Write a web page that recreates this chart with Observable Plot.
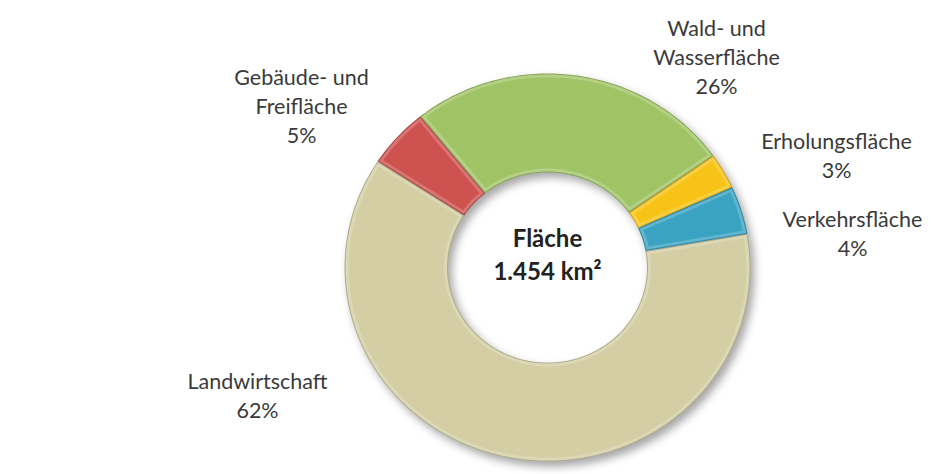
<!DOCTYPE html>
<html><head><meta charset="utf-8">
<script src="https://cdn.jsdelivr.net/npm/d3@7"></script>
<script src="https://cdn.jsdelivr.net/npm/@observablehq/plot@0.6"></script>
<style>html,body{margin:0;padding:0;background:#fff;}</style>
</head><body><div id="chart"></div>
<script>
// ---- data ----
const categories = ["Landwirtschaft", "Gebäude- und Freifläche", "Wald- und Wasserfläche", "Erholungsfläche", "Verkehrsfläche"];
const labelLines = [["Landwirtschaft"], ["Gebäude- und", "Freifläche"], ["Wald- und", "Wasserfläche"], ["Erholungsfläche"], ["Verkehrsfläche"]];
const percents = [62, 5, 26, 3, 4];
const colors = ["#d3cea4", "#cd5250", "#a0c465", "#f7c316", "#3aa3c2"];
const centerLines = ["Fläche", "1.454 km²"];

// ---- layout ----
const W = 931, H = 474;
const CX = 547, CY = 267, RX = 203, RY = 194, INNER = 0.49;
const START_DEG = 80;
const labelPos = [[257, 417], [301, 142], [716, 93], [836, 177], [852, 255]]; // x, baseline of last line
const centerBaseline = 279;

const R = (RX + RY) / 2;
const arcs = d3.pie().sort(null)
  .startAngle(START_DEG * Math.PI / 180)
  .endAngle(START_DEG * Math.PI / 180 + 2 * Math.PI)(percents);

function pt(a, r) { return [CX + r * RX * Math.sin(a), CY - r * RY * Math.cos(a)]; }

function sector(i, inset, layer, fill) {
  const {startAngle: a0, endAngle: a1} = arcs[i];
  const ro = 1 - inset / R, ri = INNER + inset / R;
  const dao = inset / (ro * R), dai = inset / (ri * R);
  const n = Math.max(8, Math.ceil((a1 - a0) * 60));
  const pts = [];
  for (let k = 0; k <= n; ++k) {
    const a = (a0 + dao) + ((a1 - dao) - (a0 + dao)) * k / n;
    pts.push(pt(a, ro));
  }
  for (let k = 0; k <= n; ++k) {
    const a = (a1 - dai) + ((a0 + dai) - (a1 - dai)) * k / n;
    pts.push(pt(a, ri));
  }
  pts.push(pts[0]);
  return pts.map(([x, y]) => ({x, y, k: layer + "-" + i, fill}));
}

const base = [], light = [], main = [];
percents.forEach((_, i) => {
  base.push(...sector(i, 0, "b", d3.color(colors[i]).darker(0.5).formatHex()));
  light.push(...sector(i, 1, "l", d3.interpolateRgb(colors[i], "#fff")(0.2)));
  main.push(...sector(i, 4, "m", colors[i]));
});

const labels = categories.map((c, i) => ({
  x: labelPos[i][0], y: labelPos[i][1],
  text: [...labelLines[i], percents[i] + "%"].join("\n")
}));
const center = [{x: CX, y: centerBaseline, text: centerLines.join("\n")}];

const chart = Plot.plot({
  width: W, height: H, margin: 0,
  x: {type: "identity", axis: null},
  y: {type: "identity", axis: null},
  color: {type: "identity"},
  style: {fontFamily: "Lato, 'Open Sans', sans-serif", background: "#fff"},
  marks: [
    Plot.line(base, {x: "x", y: "y", z: "k", fill: "fill", stroke: "none", curve: "linear",
      imageFilter: "drop-shadow(4px 5px 4px rgba(0,0,0,0.35))"}),
    Plot.line(light, {x: "x", y: "y", z: "k", fill: "fill", stroke: "none"}),
    Plot.line(main, {x: "x", y: "y", z: "k", fill: "fill", stroke: "none"}),
    Plot.text(labels, {x: "x", y: "y", text: "text", textAnchor: "middle", lineAnchor: "bottom",
      lineHeight: 1.33, fontSize: 21.5, fill: "#3a3a3a"}),
    Plot.text(center, {x: "x", y: "y", text: "text", textAnchor: "middle", lineAnchor: "bottom",
      lineHeight: 1.35, fontSize: 24, fontWeight: "bold", fill: "#222"})
  ]
});
document.getElementById("chart").append(chart);
</script>
</body></html>
